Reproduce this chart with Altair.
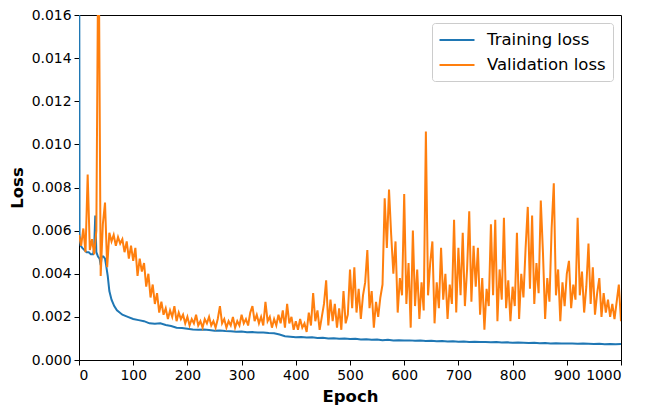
import altair as alt
import pandas as pd

# ---- data ----
train_epochs = [0, 1, 3, 6, 10, 14, 18, 22, 26, 28, 30, 32, 35, 38, 40, 42, 45, 48, 50, 53, 56, 60, 65,
                70, 75, 80, 90, 100, 110, 120, 130, 140, 150, 160, 170, 180, 190, 200,
                210, 220, 230, 240, 250, 260, 270, 280, 290, 300, 310, 320, 330, 340, 350,
                360, 370, 380, 390, 400, 410, 420, 430, 440, 450, 460, 470, 480, 490, 500,
                510, 520, 530, 540, 550, 560, 570, 580, 590, 600, 610, 620, 630, 640, 650,
                660, 670, 680, 690, 700, 710, 720, 730, 740, 750, 760, 770, 780, 790, 800,
                810, 820, 830, 840, 850, 860, 870, 880, 890, 900, 910, 920, 930, 940, 950,
                960, 970, 980, 990, 1000]
train_loss = [0.0300, 0.0058, 0.0053, 0.0052, 0.0051, 0.0050, 0.0050, 0.0049, 0.0049, 0.0052, 0.0067,
              0.0050, 0.0048, 0.0047, 0.0044, 0.0048, 0.0048, 0.0047, 0.0044, 0.0039, 0.0032, 0.0028,
              0.0025, 0.0023, 0.0022, 0.0021, 0.0020, 0.0019, 0.00185, 0.0018, 0.0017, 0.00168,
              0.0017, 0.00162, 0.00158, 0.0015, 0.00148, 0.00145,
              0.00142, 0.00140, 0.00141, 0.00139, 0.00136, 0.00137, 0.00134, 0.00133, 0.00131,
              0.00132, 0.00129, 0.00130, 0.00127, 0.00128, 0.00125, 0.00124, 0.00118, 0.00110,
              0.00108, 0.00106, 0.00107, 0.00104, 0.00105, 0.00102, 0.00103, 0.00100, 0.00101,
              0.00099, 0.00100, 0.00097, 0.00098, 0.00095, 0.00096, 0.00094, 0.00095, 0.00092,
              0.00094, 0.00091, 0.00092, 0.00090, 0.00091, 0.00089, 0.00090, 0.00088, 0.00089,
              0.00087, 0.00088, 0.00086, 0.00087, 0.00085, 0.00086, 0.00084, 0.00085, 0.00083,
              0.00084, 0.00082, 0.00083, 0.00081, 0.00082, 0.00080, 0.00081, 0.00080, 0.00079,
              0.00080, 0.00078, 0.00079, 0.00077, 0.00078, 0.00077, 0.00076, 0.00077, 0.00075,
              0.00076, 0.00075, 0.00074, 0.00075, 0.00073, 0.00074, 0.00073, 0.00074]

val_epochs = list(range(0, 1001, 4))
val_loss = [
    # 0-76
    0.0058, 0.0053, 0.0061, 0.0050, 0.0086, 0.0051, 0.0056, 0.0049, 0.0060, 0.0210,
    0.0039, 0.0063, 0.0073, 0.0043, 0.0059, 0.0055, 0.0058, 0.0053, 0.0057, 0.0054,
    # 80-156
    0.0056, 0.0050, 0.0055, 0.0047, 0.0053, 0.0046, 0.0052, 0.0039, 0.0047, 0.0041,
    0.0045, 0.0034, 0.0040, 0.0029, 0.0035, 0.0026, 0.0031, 0.0022, 0.0027, 0.0021,
    # 160-236
    0.0024, 0.0019, 0.0023, 0.0020, 0.0025, 0.0018, 0.0022, 0.0019, 0.0021, 0.0017,
    0.0020, 0.0016, 0.0019, 0.0017, 0.0021, 0.0016, 0.0018, 0.0015, 0.0019, 0.0017,
    # 240-316
    0.0020, 0.0016, 0.0018, 0.0015, 0.0019, 0.0025, 0.0017, 0.0019, 0.0015, 0.0018,
    0.0016, 0.0020, 0.0015, 0.0018, 0.0016, 0.0021, 0.0017, 0.0019, 0.0016, 0.0022,
    # 320-396
    0.0025, 0.0018, 0.0021, 0.0017, 0.0020, 0.0016, 0.0027, 0.0018, 0.0020, 0.0015,
    0.0019, 0.0016, 0.0021, 0.0017, 0.0023, 0.0015, 0.0026, 0.0017, 0.0020, 0.0014,
    # 400-476
    0.0018, 0.0014, 0.0019, 0.0015, 0.0017, 0.0013, 0.0022, 0.0016, 0.0031, 0.0018,
    0.0023, 0.0014, 0.0020, 0.0026, 0.0037, 0.0016, 0.0028, 0.0018, 0.0026, 0.0015,
    # 480-556
    0.0024, 0.0014, 0.0032, 0.0017, 0.0021, 0.0042, 0.0024, 0.0043, 0.0022, 0.0033,
    0.0019, 0.0030, 0.0036, 0.0051, 0.0024, 0.0032, 0.0015, 0.0027, 0.0020, 0.0029,
    # 560-636
    0.0035, 0.0075, 0.0052, 0.0079, 0.0058, 0.0040, 0.0055, 0.0022, 0.0038, 0.0030,
    0.0077, 0.0026, 0.0045, 0.0015, 0.0060, 0.0025, 0.0042, 0.0019, 0.0036, 0.0023,
    # 640-716
    0.0106, 0.0030, 0.0045, 0.0055, 0.0017, 0.0036, 0.0024, 0.0052, 0.0028, 0.0040,
    0.0019, 0.0035, 0.0026, 0.0065, 0.0022, 0.0052, 0.0030, 0.0059, 0.0025, 0.0042,
    # 720-796
    0.0069, 0.0027, 0.0053, 0.0034, 0.0052, 0.0021, 0.0038, 0.0014, 0.0033, 0.0025,
    0.0063, 0.0030, 0.0065, 0.0018, 0.0042, 0.0028, 0.0066, 0.0024, 0.0037, 0.0018,
    # 800-876
    0.0034, 0.0025, 0.0059, 0.0019, 0.0040, 0.0029, 0.0052, 0.0071, 0.0033, 0.0067,
    0.0026, 0.0045, 0.0031, 0.0074, 0.0050, 0.0019, 0.0038, 0.0027, 0.0061, 0.0082,
    # 880-956
    0.0030, 0.0042, 0.0018, 0.0036, 0.0025, 0.0040, 0.0046, 0.0024, 0.0035, 0.0028,
    0.0066, 0.0030, 0.0041, 0.0022, 0.0034, 0.0054, 0.0026, 0.0043, 0.0021, 0.0031,
    # 960-1000
    0.0038, 0.0020, 0.0031, 0.0022, 0.0028, 0.0020, 0.0026, 0.0019, 0.0027, 0.0035, 0.0018,
]

series_names = ["Training loss", "Validation loss"]
series_colors = ["#1f77b4", "#ff7f0e"]
x_ticks = list(range(0, 1001, 100))
y_ticks = [0.000, 0.002, 0.004, 0.006, 0.008, 0.010, 0.012, 0.014, 0.016]

df = pd.concat([
    pd.DataFrame({"Epoch": train_epochs, "Loss": train_loss, "Series": series_names[0]}),
    pd.DataFrame({"Epoch": val_epochs, "Loss": val_loss, "Series": series_names[1]}),
], ignore_index=True)

FONT = "DejaVu Sans"

chart = alt.Chart(df).mark_line(strokeWidth=2, clip=True).encode(
    x=alt.X("Epoch:Q",
            scale=alt.Scale(domain=[0, 1000], nice=False, zero=False),
            axis=alt.Axis(values=x_ticks, format="d", title="Epoch")),
    y=alt.Y("Loss:Q",
            scale=alt.Scale(domain=[0, 0.016], nice=False),
            axis=alt.Axis(values=y_ticks, format=".3f", title="Loss")),
    color=alt.Color("Series:N",
                    scale=alt.Scale(domain=series_names, range=series_colors),
                    legend=alt.Legend(title=None, orient="top-right", offset=8,
                                      symbolType="M-2,0H2", symbolSize=306,
                                      symbolOffset=8, symbolStrokeWidth=2,
                                      labelFontSize=16.5, labelFont=FONT,
                                      labelColor="black", labelOffset=20,
                                      padding=7, rowPadding=6,
                                      fillColor="white", strokeColor="#cccccc",
                                      cornerRadius=3)),
    detail="Series:N",
).properties(
    width=542,
    height=345,
    autosize=alt.AutoSizeParams(type="none"),
    padding={"left": 71, "top": 7, "right": 16, "bottom": 45},
).configure_view(
    stroke="black", strokeWidth=1
).configure_axis(
    grid=False, domainColor="black", domainWidth=1, tickColor="black", tickSize=5,
    tickWidth=1, labelColor="black", labelFont=FONT, labelFontSize=13.9,
    labelPadding=3, titleFont=FONT, titleFontSize=16.5, titleFontWeight="bold",
    titleColor="black",
).configure_axisX(
    titlePadding=7
).configure_axisY(
    titlePadding=6
)

chart.save("out.html", embed_options={"renderer": "svg", "actions": False})
